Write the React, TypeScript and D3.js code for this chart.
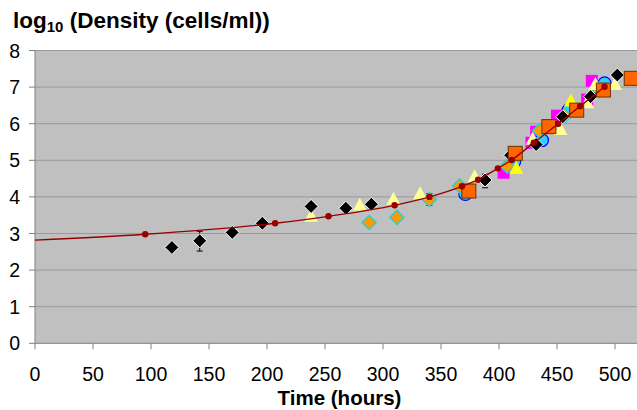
import React from "react";
import * as d3 from "d3";

// ---- data (hours, log10 density) ----
const xTicks = [0, 50, 100, 150, 200, 250, 300, 350, 400, 450, 500];
const yTicks = [0, 1, 2, 3, 4, 5, 6, 7, 8];

const blackDiamondX = [118, 142, 170, 196, 238, 268, 290, 388, 410, 432, 455, 479, 502];
const blackDiamondY = [2.62, 2.8, 3.03, 3.28, 3.74, 3.69, 3.8, 4.46, 5.14, 5.43, 6.19, 6.74, 7.33];
const blackErrX = [142, 388];
const blackErrLow = [2.52, 4.25];
const blackErrHigh = [3.06, 4.62];

const paleTriX = [238, 280, 309, 332, 379, 429, 453, 476, 483, 500];
const paleTriY = [3.5, 3.8, 3.96, 4.11, 4.58, 5.6, 5.87, 6.6, 7.1, 7.1];

const brightTriX = [415, 462];
const brightTriY = [4.8, 6.65];

const orangeDiamondX = [288, 312, 340, 366, 407, 435, 457, 485];
const orangeDiamondY = [3.3, 3.44, 3.93, 4.3, 4.84, 5.81, 6.22, 6.95];
const orangeErrX = [340];
const orangeErrLow = [3.77];
const orangeErrHigh = [4.09];

const circleX = [371, 413, 437, 460, 491];
const circleY = [4.08, 4.96, 5.55, 6.37, 7.1];

const magentaX = [404, 428, 432, 450, 476, 480];
const magentaY = [4.66, 5.48, 5.78, 6.22, 6.66, 7.17];

const orangeSquareX = [374, 414, 443, 467, 490, 514];
const orangeSquareY = [4.16, 5.19, 5.92, 6.37, 6.92, 7.24];

const redDotX = [95, 207, 253, 310, 340, 368, 382, 399, 411, 430, 451, 470, 491];
const redDotY = [2.98, 3.28, 3.47, 3.77, 4.0, 4.29, 4.47, 4.78, 5.01, 5.48, 6.0, 6.48, 7.01];

const curveX = [0, 95, 207, 253, 310, 340, 368, 382, 399, 411, 430, 451, 470, 491];
const curveY = [2.82, 2.98, 3.28, 3.47, 3.77, 4.0, 4.29, 4.47, 4.78, 5.01, 5.48, 6.0, 6.48, 7.01];

const W = 637;
const H = 410;
const FONT = "Arial, 'Liberation Sans', Helvetica, sans-serif";

export default function App() {
  const x = d3.scaleLinear().domain([0, 500]).range([35, 615]);
  const y = d3.scaleLinear().domain([0, 8]).range([343.3, 50.5]);
  const plotL = x(0);
  const plotR = W;
  const plotT = y(8);
  const plotB = y(0);

  const line = d3
    .line<number>()
    .x((_, i) => x(curveX[i]))
    .y((d) => y(d))
    .curve(d3.curveMonotoneX);

  const diamond = (cx: number, cy: number, r: number) =>
    `M${cx},${cy - r}L${cx + r},${cy}L${cx},${cy + r}L${cx - r},${cy}Z`;
  const tri = (cx: number, cy: number, w: number, h: number) =>
    `M${cx},${cy - h / 2}L${cx + w / 2},${cy + h / 2}L${cx - w / 2},${cy + h / 2}Z`;

  const errBar = (xs: number[], lo: number[], hi: number[], key: string) =>
    xs.map((v, i) => {
      const cx = x(v);
      return (
        <g key={key + i} stroke="#000" strokeWidth={1}>
          <line x1={cx} x2={cx} y1={y(lo[i])} y2={y(hi[i])} />
          <line x1={cx - 3} x2={cx + 3} y1={y(lo[i])} y2={y(lo[i])} />
          <line x1={cx - 3} x2={cx + 3} y1={y(hi[i])} y2={y(hi[i])} />
        </g>
      );
    });

  return (
    <svg
      width={W}
      height={H}
      style={{ position: "absolute", left: 0, top: 0, background: "#fff" }}
      fontFamily={FONT}
    >
      <defs>
        <clipPath id="plotclip">
          <rect x={plotL} y={plotT - 10} width={plotR - plotL} height={plotB - plotT + 10} />
        </clipPath>
      </defs>
      <rect x={plotL} y={plotT} width={plotR - plotL} height={plotB - plotT} fill="#C0C0C0" />
      {yTicks.map((t) => (
        <line
          key={"g" + t}
          x1={plotL}
          x2={plotR}
          y1={y(t)}
          y2={y(t)}
          stroke={t === 0 ? "#808080" : "#9A9A9A"}
          strokeWidth={1}
        />
      ))}
      <line x1={plotL} x2={plotL} y1={plotT} y2={plotB} stroke="#808080" strokeWidth={1} />
      {yTicks.map((t) => (
        <g key={"yt" + t}>
          <line x1={plotL - 6} x2={plotL} y1={y(t)} y2={y(t)} stroke="#808080" />
          <text x={20} y={y(t)} dy="0.36em" textAnchor="end" fontSize={19.5} fill="#000">
            {t}
          </text>
        </g>
      ))}
      {xTicks.map((t) => (
        <g key={"xt" + t}>
          <line x1={x(t)} x2={x(t)} y1={plotB} y2={plotB + 6} stroke="#808080" />
          <text x={x(t)} y={381} textAnchor="middle" fontSize={19.5} fill="#000">
            {t}
          </text>
        </g>
      ))}

      <g clipPath="url(#plotclip)">
        {magentaX.map((v, i) => (
          <rect key={"m" + i} x={x(v) - 6} y={y(magentaY[i]) - 6} width={12} height={12} fill="#FF00FF" />
        ))}
        {circleX.map((v, i) => (
          <circle key={"c" + i} cx={x(v)} cy={y(circleY[i])} r={6.5} fill="#33CCFF" stroke="#0000FF" strokeWidth={1.2} />
        ))}
        {errBar(orangeErrX, orangeErrLow, orangeErrHigh, "oe")}
        {orangeDiamondX.map((v, i) => (
          <path key={"od" + i} d={diamond(x(v), y(orangeDiamondY[i]), 7)} fill="#FF9900" stroke="#33CCCC" strokeWidth={1.5} />
        ))}
        {paleTriX.map((v, i) => (
          <path key={"pt" + i} d={tri(x(v), y(paleTriY[i]), 14, 13)} fill="#FFFF99" />
        ))}
        {brightTriX.map((v, i) => (
          <path key={"bt" + i} d={tri(x(v), y(brightTriY[i]), 14, 13)} fill="#FFFF00" />
        ))}
        {errBar(blackErrX, blackErrLow, blackErrHigh, "be")}
        {blackDiamondX.map((v, i) => (
          <path key={"bd" + i} d={diamond(x(v), y(blackDiamondY[i]), 7)} fill="#000" stroke="#fff" strokeWidth={1} />
        ))}
        {orangeSquareX.map((v, i) => (
          <rect key={"os" + i} x={x(v) - 7} y={y(orangeSquareY[i]) - 7} width={14} height={14} fill="#FF6600" stroke="#663300" strokeWidth={1} />
        ))}
        <path d={line(curveY) || ""} fill="none" stroke="#990000" strokeWidth={1.3} />
        {redDotX.map((v, i) => (
          <circle key={"r" + i} cx={x(v)} cy={y(redDotY[i])} r={3.2} fill="#990000" />
        ))}
      </g>

      <text x={13} y={28} fontSize={22.5} fontWeight="bold" fill="#000">
        log<tspan fontSize={15} dy={4}>10</tspan>
        <tspan dy={-4}> (Density (cells/ml))</tspan>
      </text>
      <text x={339.5} y={405} textAnchor="middle" fontSize={20.5} fontWeight="bold" fill="#000">
        Time (hours)
      </text>
    </svg>
  );
}
